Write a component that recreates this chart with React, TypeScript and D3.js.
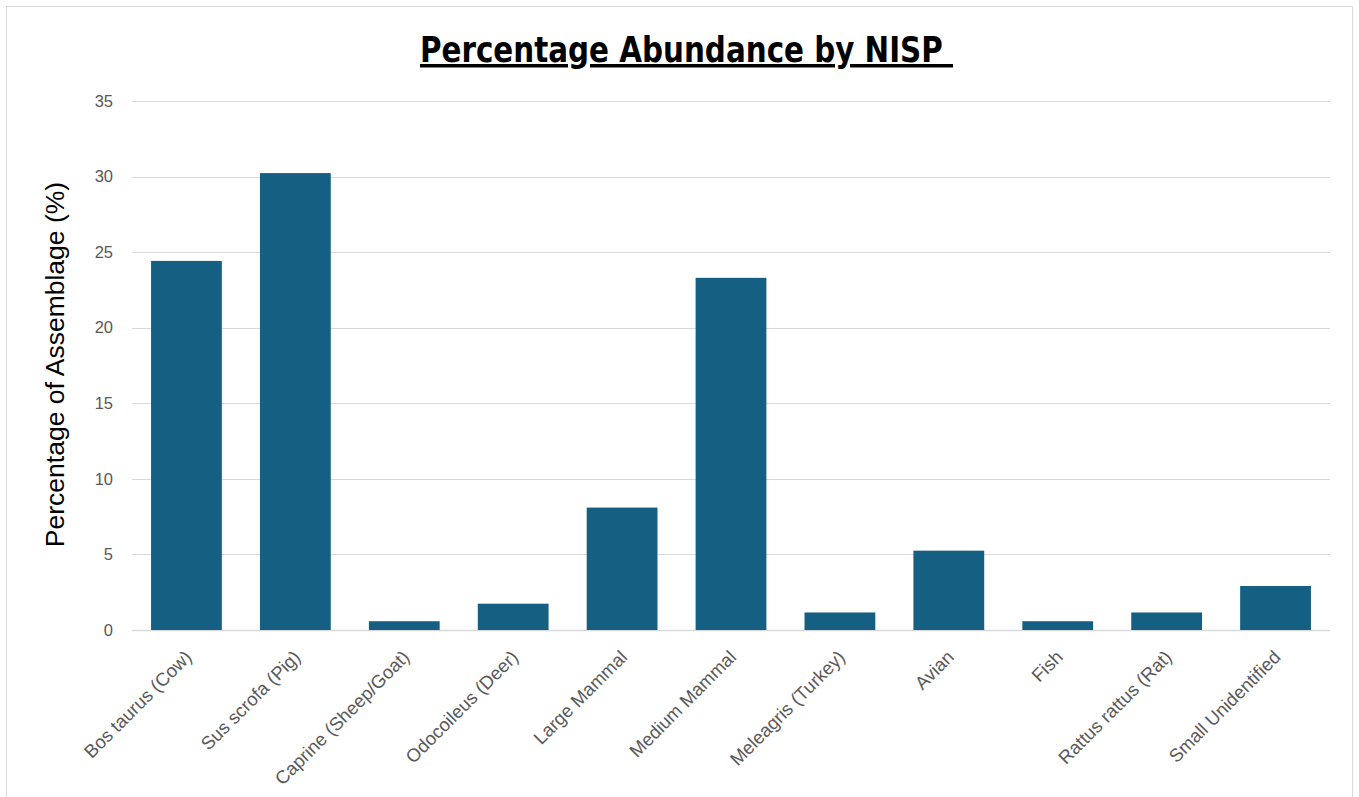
import React from "react";
import * as d3 from "d3";

// Percentage abundance of each taxon in the faunal assemblage (by NISP)
const categories = [
  "Bos taurus (Cow)",
  "Sus scrofa (Pig)",
  "Caprine (Sheep/Goat)",
  "Odocoileus (Deer)",
  "Large Mammal",
  "Medium Mammal",
  "Meleagris (Turkey)",
  "Avian",
  "Fish",
  "Rattus rattus (Rat)",
  "Small Unidentified",
];
const percentages = [24.42, 30.23, 0.58, 1.74, 8.1, 23.3, 1.16, 5.25, 0.58, 1.16, 2.91];
const yTicks = [0, 5, 10, 15, 20, 25, 30, 35];

const W = 1359;
const H = 797;
const plot = { left: 132, right: 1330, top: 101, bottom: 630 };

const FONT = "'Liberation Sans', Arial, sans-serif";
const TITLE_FONT = "'DejaVu Sans Condensed', 'Liberation Sans', sans-serif";

export default function App() {
  const x = d3
    .scaleBand<string>()
    .domain(categories)
    .range([plot.left, plot.right])
    .paddingInner(0.35)
    .paddingOuter(0.175);
  const y = d3.scaleLinear().domain([0, 35]).range([plot.bottom, plot.top]);

  return (
    <svg
      width={W}
      height={H}
      style={{ position: "absolute", left: 0, top: 0, background: "#fff" }}
    >
      <rect x={6.5} y={6.5} width={1346} height={820} fill="#fff" stroke="#d9d9d9" />

      <text
        x={686.5}
        y={62}
        textAnchor="middle"
        fontFamily={TITLE_FONT}
        fontWeight="bold"
        fontSize={35}
        fill="#000"
        textDecoration="underline"
        textLength={533}
        lengthAdjust="spacingAndGlyphs"
        style={{ whiteSpace: "pre" }}
      >
        {"Percentage Abundance by NISP "}
      </text>

      {yTicks.map((t) => (
        <g key={t}>
          <line
            x1={plot.left}
            x2={plot.right}
            y1={Math.round(y(t)) + 0.5}
            y2={Math.round(y(t)) + 0.5}
            stroke="#d9d9d9"
            strokeWidth={t === 0 ? 1.5 : 1.2}
          />
          <text
            x={113}
            y={y(t)}
            dy="0.35em"
            textAnchor="end"
            fontFamily={FONT}
            fontSize={16.5}
            fill="#595959"
          >
            {t}
          </text>
        </g>
      ))}

      <text
        transform={`translate(64, ${(plot.top + plot.bottom) / 2 - 1}) rotate(-90)`}
        textAnchor="middle"
        fontFamily={FONT}
        fontSize={26.5}
        fill="#000"
      >
        Percentage of Assemblage (%)
      </text>

      {categories.map((c, i) => (
        <rect
          key={c}
          x={x(c)}
          y={y(percentages[i])}
          width={x.bandwidth()}
          height={y(0) - y(percentages[i])}
          fill="#156082"
        />
      ))}

      {categories.map((c) => (
        <text
          key={c}
          transform={`translate(${(x(c) as number) + x.bandwidth() / 2 - 3}, 649) rotate(-45)`}
          dy="0.71em"
          textAnchor="end"
          fontFamily={FONT}
          fontSize={18.5}
          fill="#595959"
        >
          {c}
        </text>
      ))}
    </svg>
  );
}
